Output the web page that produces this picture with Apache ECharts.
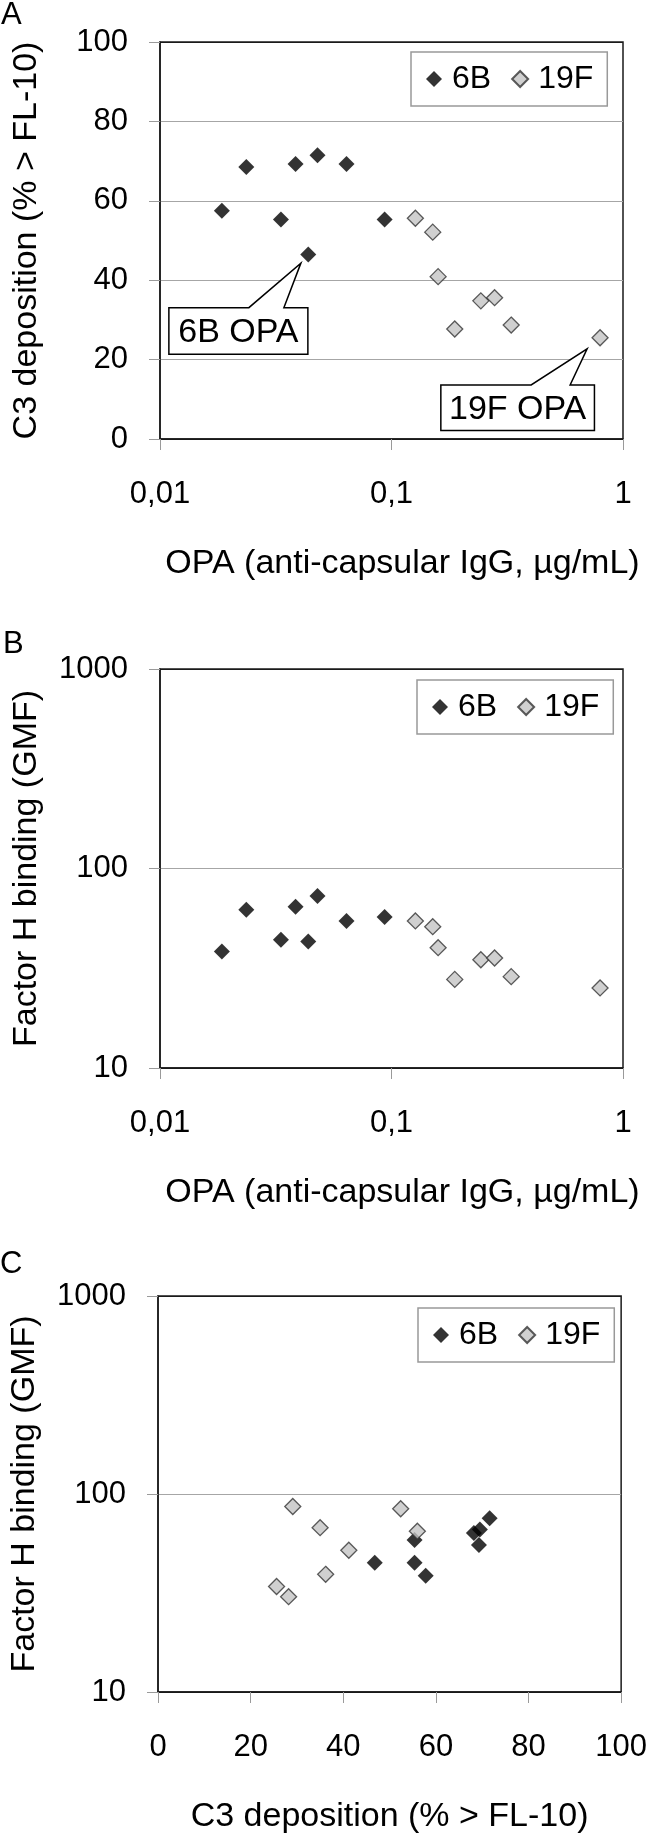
<!DOCTYPE html>
<html><head><meta charset="utf-8">
<script src="https://cdn.jsdelivr.net/npm/echarts@6/dist/echarts.min.js"></script>
<style>html,body{margin:0;padding:0;background:#fff}#c{width:650px;height:1835px}</style>
</head><body><div id="c"></div>
<script>
// ---- data ----
const seriesNames = ['6B', '19F'];
const opaTickLabels = ['0,01', '0,1', '1'];
const c3TickLabels = ['0', '20', '40', '60', '80', '100'];
const fhTickLabels = ['10', '100', '1000'];

// Panel A / B : OPA titre (µg/mL)
const opa6B  = [0.0185, 0.0236, 0.0333, 0.0385, 0.0479, 0.0437, 0.0639, 0.0934];
const c3_6B  = [57.5, 68.5, 55.3, 69.3, 71.5, 46.5, 69.3, 55.3];
const fh_6B  = [38.4, 62.2, 44.0, 64.3, 72.8, 43.1, 54.6, 57.1];
const opa19F = [0.1268, 0.1507, 0.159, 0.1876, 0.2432, 0.2788, 0.3289, 0.796];
const c3_19F = [55.6, 52.1, 40.9, 27.7, 34.8, 35.6, 28.7, 25.5];
const fh_19F = [54.6, 51.1, 40.1, 27.8, 34.9, 35.6, 28.7, 25.2];

// Panel C : C3 deposition vs Factor H binding
const cC3_6B  = [46.8, 55.4, 55.4, 57.8, 68.2, 69.5, 69.3, 71.6];
const cFH_6B  = [45.0, 58.5, 45.0, 38.6, 63.6, 66.1, 55.2, 75.5];
const cC3_19F = [29.1, 35.0, 41.2, 36.2, 25.6, 28.2, 52.4, 56.0];
const cFH_19F = [86.5, 67.6, 52.0, 39.3, 34.1, 30.3, 84.2, 64.9];

// annotations in panel A (label, data point the pointer aims at)
const calloutLabels = ['6B OPA', '19F OPA'];
const calloutAnchors = [[0.0406, 44.3], [0.70, 22.7]];

const panelLetters = ['A', 'B', 'C'];
const xNames = ['OPA (anti-capsular IgG, µg/mL)', 'OPA (anti-capsular IgG, µg/mL)', 'C3 deposition (% > FL-10)'];
const yNames = ['C3 deposition (% > FL-10)', 'Factor H binding (GMF)', 'Factor H binding (GMF)'];

// ---- chart ----
const FONT = 'Liberation Sans, Arial, Helvetica, sans-serif';
const zip = (a, b) => a.map((v, i) => [v, b[i]]);
const BORDER = '#1a1a1a', GRID = '#a6a6a6', TICK = '#9a9a9a';

const grids = [
  {left: 160, top: 42, width: 463, height: 397},
  {left: 160, top: 669, width: 463, height: 399},
  {left: 158, top: 1296, width: 465, height: 403}
].map(g => Object.assign(g, {show: true, borderColor: BORDER, borderWidth: 1.5, backgroundColor: 'transparent'}));

function xAxisBase(i) {
  return {
    gridIndex: i,
    name: xNames[i], nameLocation: 'middle', nameGap: 108,
    nameTextStyle: {fontSize: 34, color: '#000', fontFamily: FONT, padding: i < 2 ? [0, 0, 0, 22] : [0, 0, 0, 0]},
    axisLine: {show: true, lineStyle: {color: BORDER, width: 1.5}},
    axisTick: {show: true, length: 11, lineStyle: {color: TICK, width: 1}},
    splitLine: {show: false},
    axisLabel: {margin: 40, fontSize: 31, color: '#000', fontFamily: FONT}
  };
}
function yAxisBase(i) {
  return {
    gridIndex: i,
    name: yNames[i], nameLocation: 'middle', nameGap: 116,
    nameTextStyle: {fontSize: 34, color: '#000', fontFamily: FONT},
    axisLine: {show: true, lineStyle: {color: BORDER, width: 1.5}},
    axisTick: {show: true, length: 11, lineStyle: {color: TICK, width: 1}},
    axisLabel: {margin: 32, fontSize: 31, color: '#000', fontFamily: FONT}
  };
}

const xAxes = [
  Object.assign(xAxisBase(0), {type: 'log', logBase: 10, min: 0.01, max: 1}),
  Object.assign(xAxisBase(1), {type: 'log', logBase: 10, min: 0.01, max: 1}),
  Object.assign(xAxisBase(2), {type: 'value', min: 0, max: 100, interval: 20})
];
xAxes[0].axisLabel.formatter = (v, i) => opaTickLabels[i];
xAxes[1].axisLabel.formatter = (v, i) => opaTickLabels[i];
xAxes[2].axisLabel.formatter = (v, i) => c3TickLabels[i];

const yAxes = [
  Object.assign(yAxisBase(0), {type: 'value', min: 0, max: 100, interval: 20,
    splitLine: {show: true, lineStyle: {color: [BORDER, GRID, GRID, GRID, GRID, BORDER], width: 1}}}),
  Object.assign(yAxisBase(1), {type: 'log', logBase: 10, min: 10, max: 1000,
    splitLine: {show: true, lineStyle: {color: [BORDER, GRID, BORDER], width: 1}}}),
  Object.assign(yAxisBase(2), {type: 'log', logBase: 10, min: 10, max: 1000,
    splitLine: {show: true, lineStyle: {color: [BORDER, GRID, BORDER], width: 1}}})
];
yAxes[0].axisLabel.formatter = (v, i) => c3TickLabels[i];
yAxes[1].axisLabel.formatter = (v, i) => fhTickLabels[i];
yAxes[2].axisLabel.formatter = (v, i) => fhTickLabels[i];

const legendPos = [[411, 52], [417, 680], [418, 1308]];
const legends = legendPos.map(p => ({
  data: seriesNames, left: p[0], top: p[1], orient: 'horizontal',
  icon: 'diamond', itemWidth: 16, itemHeight: 16, itemGap: 20,
  padding: [11, 14, 11, 15], borderColor: '#999', borderWidth: 1.5,
  backgroundColor: '#fff', selectedMode: false,
  textStyle: {fontSize: 32, color: '#000', fontFamily: FONT, padding: [0, 0, 0, 5]}
}));

const style6B = {color: '#000'};
const style19F = {color: '#c4c4c4', borderColor: '#333', borderWidth: 1.3};
function sc(name, gi, data, st) {
  return {type: 'scatter', name: name, xAxisIndex: gi, yAxisIndex: gi, data: data,
    symbol: 'diamond', symbolSize: 16, itemStyle: st, emphasis: {disabled: true}, z: 3};
}
const series = [
  sc('6B', 0, zip(opa6B, c3_6B), style6B),
  sc('19F', 0, zip(opa19F, c3_19F), style19F),
  sc('6B', 1, zip(opa6B, fh_6B), style6B),
  sc('19F', 1, zip(opa19F, fh_19F), style19F),
  sc('6B', 2, zip(cC3_6B, cFH_6B), style6B),
  sc('19F', 2, zip(cC3_19F, cFH_19F), style19F)
];

const chart = echarts.init(document.getElementById('c'), null, {renderer: 'canvas'});
chart.setOption({
  animation: false,
  backgroundColor: '#fff',
  textStyle: {fontFamily: FONT},
  grid: grids, xAxis: xAxes, yAxis: yAxes, legend: legends, series: series
});

// callout shapes (pixel offsets relative to pointer tip)
const calloutGeom = [
  {x0: -132, x1: 7, y0: 44.5, y1: 91, b1: -52, b2: -17},
  {x0: -146.3, x1: 7.3, y0: 36, y1: 81.7, b1: -56, b2: -17}
];
const graphics = [];
calloutLabels.forEach((lab, k) => {
  const t = chart.convertToPixel({gridIndex: 0}, calloutAnchors[k]);
  const g = calloutGeom[k];
  const X = t[0], Y = t[1];
  graphics.push({
    type: 'polygon', z: 50,
    shape: {points: [[X + g.x0, Y + g.y0], [X + g.b1, Y + g.y0], [X, Y], [X + g.b2, Y + g.y0],
      [X + g.x1, Y + g.y0], [X + g.x1, Y + g.y1], [X + g.x0, Y + g.y1]]},
    style: {fill: '#fff', stroke: '#000', lineWidth: 1.5}
  });
  graphics.push({
    type: 'text', z: 51,
    style: {text: lab, x: X + (g.x0 + g.x1) / 2, y: Y + (g.y0 + g.y1) / 2 + 2,
      textAlign: 'center', textVerticalAlign: 'middle', fontSize: 34, fill: '#000', fontFamily: FONT}
  });
});
const letterPos = [[1, 15], [3, 644], [0, 1264]];
panelLetters.forEach((L, k) => {
  graphics.push({type: 'text', z: 51,
    style: {text: L, x: letterPos[k][0], y: letterPos[k][1], textAlign: 'left', textVerticalAlign: 'middle',
      fontSize: 31, fill: '#000', fontFamily: FONT}});
});
chart.setOption({graphic: graphics});
</script>
</body></html>
